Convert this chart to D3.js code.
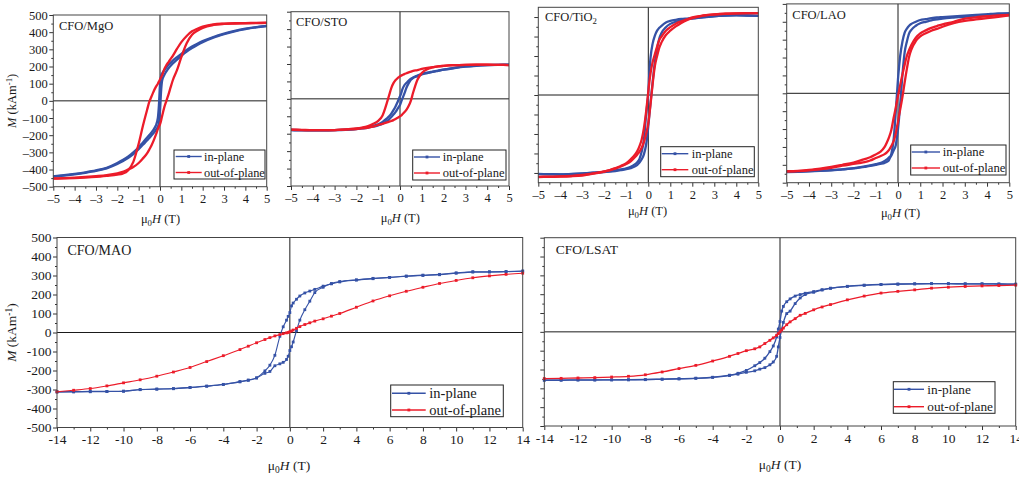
<!DOCTYPE html>
<html><head><meta charset="utf-8">
<script src="https://cdn.jsdelivr.net/npm/d3@7"></script>
<style>
body{margin:0;background:#fff}
svg{display:block}
text{font-family:"Liberation Serif","Times New Roman",serif;fill:#1a1a1a}
</style>
</head><body>
<svg id="c" width="1019" height="477"></svg>
<script>
// ---------------- DATA ----------------
const seriesNames = ["in-plane", "out-of-plane"];
const topXTicks = [-5,-4,-3,-2,-1,0,1,2,3,4,5];
const botXTicks = [-14,-12,-10,-8,-6,-4,-2,0,2,4,6,8,10,12,14];
const yTicks = [-500,-400,-300,-200,-100,0,100,200,300,400,500];
const yTicksTiO = [-400,-300,-200,-100,0,100,200,300,400];

// field grid (T) for the ±5 T panels
const topH = [-5,-4.5,-4,-3.5,-3,-2.5,-2,-1.75,-1.5,-1.25,-1,-0.8,-0.6,-0.5,-0.4,-0.3,-0.2,-0.1,-0.05,0,0.05,0.1,0.2,0.3,0.4,0.5,0.6,0.8,1,1.25,1.5,1.75,2,2.5,3,3.5,4,4.5,5];
// field grid (T) for the ±14 T panels
const botH = [-14,-13,-12,-11,-10,-9,-8,-7,-6,-5,-4,-3,-2.5,-2,-1.5,-1.2,-0.9,-0.6,-0.4,-0.2,-0.1,0,0.1,0.2,0.4,0.6,0.9,1.2,1.5,2,2.5,3,4,5,6,7,8,9,10,11,12,13,14];

// CFO/MgO  (kA/m)   Down = descending-field branch, Up = ascending-field branch
const mgoInDown  = [-440,-433,-425,-416,-405,-390,-362,-345,-325,-300,-270,-242,-214,-199,-184,-167,-145,-100,-25,95,145,160,178,195,210,223,235,255,274,296,316,333,348,372,391,407,420,430,437];
const mgoInUp    = [-441,-435,-428,-419,-408,-393,-368,-352,-333,-310,-282,-256,-230,-216,-202,-187,-170,-150,-130,-60,55,118,150,172,190,205,218,240,262,287,308,326,342,368,388,405,418,428,436];
const mgoOutDown = [-453,-452,-450,-447,-443,-437,-430,-424,-405,-355,-250,-145,-50,-5,25,55,80,100,112,125,137,150,185,208,226,244,262,304,342,378,405,420,432,446,450,452,453,454,455];
const mgoOutUp   = [-452,-450,-447,-443,-438,-432,-422,-414,-400,-385,-362,-335,-305,-283,-260,-232,-200,-165,-150,-137,-115,-88,-38,0,38,80,120,180,255,335,385,408,425,442,448,450,452,453,454];

// CFO/STO
const stoInDown  = [-178,-180,-181,-181,-180,-177,-172,-168,-162,-155,-146,-132,-112,-100,-85,-65,-42,-15,0,15,30,52,78,92,105,115,123,134,143,150,156,162,168,178,186,191,194,195,196];
const stoInUp    = [-179,-181,-181,-181,-180,-178,-174,-170,-166,-160,-152,-143,-128,-118,-104,-90,-75,-55,-45,-35,-18,-2,30,65,90,110,120,130,140,148,155,161,167,177,185,190,193,195,196];
const stoOutDown = [-176,-178,-180,-180,-179,-175,-170,-165,-158,-145,-126,-95,-22,20,62,90,108,120,125,130,133,136,142,147,152,156,160,165,172,178,182,186,189,193,195,196,196,195,194];
const stoOutUp   = [-177,-179,-180,-180,-179,-176,-173,-170,-166,-160,-150,-143,-135,-131,-127,-122,-115,-108,-104,-100,-96,-90,-77,-62,-40,-10,35,110,148,170,180,186,189,193,195,196,196,195,194];

// CFO/TiO2
const tioInDown  = [-405,-406,-407,-405,-402,-398,-394,-391,-387,-382,-376,-368,-355,-345,-328,-290,-230,-103,-50,10,120,190,265,305,330,345,355,372,380,386,390,392,394,400,405,408,410,408,406];
const tioInUp    = [-406,-407,-408,-406,-403,-399,-395,-393,-390,-386,-381,-375,-366,-358,-346,-330,-305,-255,-215,-160,-100,-40,70,170,240,290,318,348,365,376,383,388,392,399,404,407,409,408,406];
const tioOutDown = [-420,-419,-418,-415,-410,-402,-392,-385,-375,-364,-350,-330,-305,-288,-262,-228,-170,-86,-35,17,68,110,170,210,248,282,300,330,348,366,378,388,398,408,414,417,419,420,420];
const tioOutUp   = [-421,-420,-419,-417,-413,-404,-393,-386,-378,-367,-354,-340,-318,-305,-290,-270,-242,-200,-175,-145,-100,-50,60,150,200,243,270,308,330,352,370,384,394,407,413,417,419,420,420];

// CFO/LAO
const laoInDown  = [-440,-438,-435,-433,-430,-425,-420,-416,-411,-406,-400,-395,-389,-383,-372,-340,-265,-103,-10,80,150,210,290,340,362,378,388,400,410,415,420,424,426,430,434,438,442,446,447];
const laoInUp    = [-441,-439,-436,-434,-431,-426,-418,-414,-409,-403,-396,-390,-378,-370,-358,-348,-320,-290,-250,-200,-135,-60,105,230,290,335,355,378,392,400,408,413,418,424,428,435,440,445,447];
const laoOutDown = [-436,-434,-428,-421,-412,-400,-387,-378,-368,-358,-342,-328,-300,-275,-245,-205,-140,-80,-47,-15,15,47,105,160,210,242,270,311,335,352,366,376,386,400,417,425,431,436,438];
const laoOutUp   = [-437,-435,-431,-425,-417,-405,-395,-390,-385,-376,-362,-352,-340,-330,-316,-295,-268,-225,-190,-160,-122,-90,-20,62,138,205,245,292,318,336,350,360,372,392,405,413,420,428,436];

// CFO/MAO
const maoInDown  = [-311,-311,-310,-310,-309,-300,-298,-295,-289,-282,-273,-258,-250,-238,-202,-172,-120,-20,30,65,85,105,140,155,175,192,208,218,227,244,256,266,276,283,290,296,300,304,312,318,318,320,324];
const maoInUp    = [-314,-313,-312,-311,-309,-301,-298,-296,-290,-283,-274,-260,-252,-240,-215,-205,-175,-165,-157,-142,-125,-95,-75,-50,10,65,120,165,210,238,258,268,277,285,290,297,302,306,314,320,320,321,322];
const maoOut     = [-312,-304,-295,-281,-265,-249,-230,-208,-184,-153,-122,-90,-72,-54,-37,-27,-18,-11,-6,-2,0,4,8,13,22,31,42,51,60,72,86,100,133,166,193,217,238,258,274,288,298,306,312];

// CFO/LSAT
const lsatInDown = [-256,-256,-255,-255,-255,-254,-253,-251,-249,-246,-241,-230,-220,-205,-180,-163,-140,-105,-75,-27,15,55,110,135,160,175,190,198,205,214,224,232,242,248,252,254,255,256,256,255,255,254,253];
const lsatInUp   = [-257,-257,-256,-256,-255,-255,-254,-252,-250,-247,-242,-232,-225,-215,-207,-198,-190,-175,-160,-130,-80,-30,15,50,97,110,150,180,198,210,222,231,241,247,251,253,255,256,256,255,255,254,253];
const lsatOut    = [-248,-247,-245,-243,-240,-236,-228,-213,-195,-178,-155,-130,-115,-100,-90,-80,-62,-45,-32,-18,-9,0,10,20,38,53,70,88,98,117,132,145,170,190,206,215,223,232,237,241,244,246,248];

// ---------------- LAYOUT ----------------
const BLUE = "#3552a6", RED = "#ec1c2a";
const fmtTop = v => (v < 0 ? "\u2013" : "") + Math.abs(v);
const fmtBot = v => (v < 0 ? "-" : "") + Math.abs(v);
const half = (a) => { const out = []; for (let i = 0; i < a.length - 1; i++) out.push((a[i] + a[i+1]) / 2); return out; };

const panels = [
  {name:"CFO/MgO", sub:"", box:[53.3,266.7,15,186.7], xd:[-5,5], yd:[-500,500], H:topH, xt:topXTicks, yt:yTicks, fmt:fmtTop,
   blue:[mgoInDown,mgoInUp], red:[mgoOutDown,mgoOutUp], yLab:true, lab:[59,30,12.5],
   leg:[174,150,91,29,1.7,27.7,30,6.5,22.5,12.3], xl:[160.5,222.5], fs:12.5, lw:2.3},
  {name:"CFO/STO", sub:"", box:[291,509,11.7,186], xd:[-5,5], yd:[-500,500], H:topH, xt:topXTicks, yt:yTicks, fmt:fmtTop,
   blue:[stoInDown,stoInUp], red:[stoOutDown,stoOutUp], yLab:false, lab:[296,26,12.5],
   leg:[412.7,150,93.3,30,1.3,27.3,30,7,23,12.5], xl:[400.3,222.3], fs:12.5, lw:2.3},
  {name:"CFO/TiO", sub:"2", box:[538.3,758.3,7.3,182.7], xd:[-5,5], yd:[-450,450], H:topH, xt:topXTicks, yt:yTicksTiO, fmt:fmtTop,
   blue:[tioInDown,tioInUp], red:[tioOutDown,tioOutUp], yLab:false, lab:[545,20.7,12.5],
   leg:[660.7,146.7,93.6,30,1,27.6,31,7,23,12.5], xl:[647.5,214.7], fs:12.5, lw:2.3},
  {name:"CFO/LAO", sub:"", box:[786.7,1009.3,3.9,182.7], xd:[-5,5], yd:[-500,500], H:topH, xt:topXTicks, yt:yTicks, fmt:fmtTop,
   blue:[laoInDown,laoInUp], red:[laoOutDown,laoOutUp], yLab:false, lab:[792.3,19.3,12.5],
   leg:[910.7,145,95.3,30,1,29.3,32,7,23,12.7], xl:[900.5,217.3], fs:12.5, lw:2.3},
  {name:"CFO/MAO", sub:"", box:[57,522.7,237.5,427.5], xd:[-14,14], yd:[-500,500], H:botH, xt:botXTicks, yt:yTicks, fmt:fmtBot,
   blue:[maoInDown,maoInUp], red:[maoOut], yLab:true, lab:[67.5,254.7,14],
   leg:[390.7,385,112.6,31.7,1.3,35,38.6,8.3,25,14.5], xl:[289,470.3], fs:13.5, lw:1.1, mk:true},
  {name:"CFO/LSAT", sub:"", box:[544.3,1015.7,237.7,426], xd:[-14,14], yd:[-500,500], H:botH, xt:botXTicks, yt:yTicks, fmt:fmtBot,
   blue:[lsatInDown,lsatInUp], red:[lsatOut], yLab:false, lab:[555.7,254.3,13.5],
   leg:[893.3,381.7,101.7,31.6,0.7,30.7,34,7.6,25,13.3], xl:[780,469], fs:13.5, lw:1.3, mk:true}
];

const svg = d3.select("#c");

panels.forEach(p => {
  const [x0,x1,y0,y1] = p.box;
  const x = d3.scaleLinear().domain(p.xd).range([x0,x1]);
  const y = d3.scaleLinear().domain(p.yd).range([y1,y0]);
  const g = svg.append("g");

  // zero lines
  g.append("line").attr("x1",x0).attr("x2",x1).attr("y1",y(0)).attr("y2",y(0)).attr("stroke","#1a1a1a").attr("stroke-width",1);
  g.append("line").attr("x1",x(0)).attr("x2",x(0)).attr("y1",y0).attr("y2",y1).attr("stroke","#1a1a1a").attr("stroke-width",1);

  // x axis (major + minor)
  const xg = g.append("g").attr("transform",`translate(0,${y1})`)
    .call(d3.axisBottom(x).tickValues(p.xt).tickSize(4).tickPadding(3).tickSizeOuter(0).tickFormat(p.fmt));
  const xm = g.append("g").attr("transform",`translate(0,${y1})`)
    .call(d3.axisBottom(x).tickValues(half(p.xt)).tickSize(2).tickSizeOuter(0).tickFormat(""));
  // y axis
  const ya = d3.axisLeft(y).tickValues(p.yt).tickSize(4).tickPadding(p.yLab ? 1.5 : 3).tickSizeOuter(0)
    .tickFormat(p.yLab ? p.fmt : "");
  const yg = g.append("g").attr("transform",`translate(${x0},0)`).call(ya);
  const ym = g.append("g").attr("transform",`translate(${x0},0)`)
    .call(d3.axisLeft(y).tickValues(half(p.yt)).tickSize(2).tickSizeOuter(0).tickFormat(""));
  [xg,xm,yg,ym].forEach(a => {
    a.attr("font-family",null);
    a.select(".domain").remove();
    a.selectAll("line").attr("stroke","#333");
    a.selectAll("text").attr("font-size",p.fs).attr("fill","#1a1a1a");
  });

  // curves
  const line = d3.line().x((d,i) => x(p.H[i])).y(d => y(d)).curve(d3.curveMonotoneX);
  const drawSeries = (branches, col) => {
    branches.forEach(arr => {
      g.append("path").attr("d", line(arr)).attr("fill","none").attr("stroke",col)
        .attr("stroke-width",p.lw).attr("stroke-linejoin","round");
      if (p.mk) {
        g.append("g").selectAll("rect").data(arr).join("rect")
          .attr("x",(d,i)=>x(p.H[i])-1.4).attr("y",d=>y(d)-1.4)
          .attr("width",2.8).attr("height",2.8).attr("fill",col);
      }
    });
  };
  drawSeries(p.blue, BLUE);
  drawSeries(p.red, RED);

  // frame
  g.append("rect").attr("x",x0).attr("y",y0).attr("width",x1-x0).attr("height",y1-y0)
    .attr("fill","none").attr("stroke","#444").attr("stroke-width",1);

  // panel label
  const lt = g.append("text").attr("x",p.lab[0]).attr("y",p.lab[1]).attr("font-size",p.lab[2]).text(p.name);
  if (p.sub) lt.append("tspan").attr("dy",3).attr("font-size",p.lab[2]*0.7).text(p.sub);

  // legend
  const [lx,ly,lw,lh,l0,l1,tx,e1,e2,lfs] = p.leg;
  g.append("rect").attr("x",lx).attr("y",ly).attr("width",lw).attr("height",lh)
    .attr("fill","#fff").attr("stroke","#222").attr("stroke-width",1);
  [[BLUE,e1],[RED,e2]].forEach(([col,dy],k) => {
    g.append("line").attr("x1",lx+l0).attr("x2",lx+l1).attr("y1",ly+dy).attr("y2",ly+dy)
      .attr("stroke",col).attr("stroke-width",1.4);
    const mx = lx + (l0+l1)/2;
    g.append("rect").attr("x",mx-1.4).attr("y",ly+dy-1.4).attr("width",2.8).attr("height",2.8).attr("fill",col);
    g.append("text").attr("x",lx+tx).attr("y",ly+dy).attr("dy","0.33em").attr("font-size",lfs).text(seriesNames[k]);
  });

  // x label
  const xt = g.append("text").attr("x",p.xl[0]).attr("y",p.xl[1]).attr("text-anchor","middle").attr("font-size",p.fs);
  xt.append("tspan").text("\u03bc");
  xt.append("tspan").attr("dy",3).attr("font-size",p.fs*0.7).text("0");
  xt.append("tspan").attr("dy",-3).attr("font-style","italic").text("H");
  xt.append("tspan").text(" (T)");

  // y label
  if (p.yLab) {
    const cy = (y0+y1)/2;
    const yt = g.append("text").attr("transform",`translate(16,${cy}) rotate(-90)`).attr("text-anchor","middle").attr("font-size",p.fs);
    yt.append("tspan").attr("font-style","italic").text("M");
    yt.append("tspan").text(" (kAm");
    yt.append("tspan").attr("dy",-4).attr("font-size",p.fs*0.7).text("-1");
    yt.append("tspan").attr("dy",4).text(")");
  }
});
</script>
</body></html>
